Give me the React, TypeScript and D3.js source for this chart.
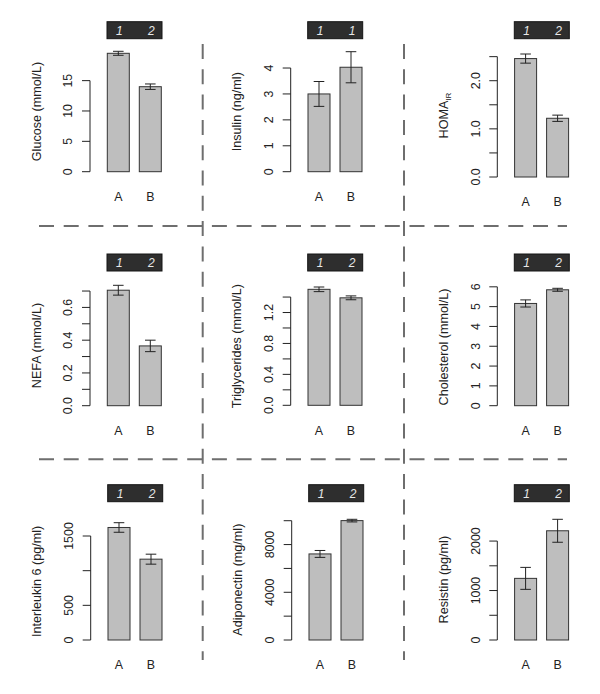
import React from 'react';
import * as d3 from 'd3';

// measures, one per panel (row by row)
const measures = [
  'Glucose (mmol/L)',
  'Insulin (ng/ml)',
  'HOMA_IR',
  'NEFA (mmol/L)',
  'Triglycerides (mmol/L)',
  'Cholesterol (mmol/L)',
  'Interleukin 6 (pg/ml)',
  'Adiponectin (mg/ml)',
  'Resistin (pg/ml)',
];
const groups = ['A', 'B'];
const meanA = [19.5, 3.0, 2.46, 0.705, 1.5, 5.16, 1623, 7215, 1246];
const meanB = [14.0, 4.03, 1.22, 0.365, 1.39, 5.85, 1166, 10008, 2208];
const seA = [0.33, 0.48, 0.095, 0.03, 0.03, 0.18, 69, 290, 222];
const seB = [0.45, 0.6, 0.065, 0.035, 0.025, 0.075, 72, 110, 232];
const stripLabels = [
  ['1', '2'], ['1', '1'], ['1', '2'],
  ['1', '2'], ['1', '2'], ['1', '2'],
  ['1', '2'], ['1', '2'], ['1', '2'],
];
const tickValues = [
  [0, 5, 10, 15],
  [0, 1, 2, 3, 4],
  [0, 0.5, 1, 1.5, 2, 2.5],
  [0, 0.1, 0.2, 0.3, 0.4, 0.5, 0.6, 0.7],
  [0, 0.2, 0.4, 0.6, 0.8, 1.0, 1.2, 1.4],
  [0, 1, 2, 3, 4, 5, 6],
  [0, 500, 1000, 1500],
  [0, 2000, 4000, 6000, 8000, 10000],
  [0, 500, 1000, 1500, 2000],
];
const tickLabels = [
  ['0', '5', '10', '15'],
  ['0', '1', '2', '3', '4'],
  ['0.0', '', '1.0', '', '2.0', ''],
  ['0.0', '', '0.2', '', '0.4', '', '0.6', ''],
  ['0.0', '', '0.4', '', '0.8', '', '1.2', ''],
  ['0', '1', '2', '3', '4', '5', '6'],
  ['0', '500', '', '1500'],
  ['0', '', '4000', '', '8000', ''],
  ['0', '', '1000', '', '2000'],
];

// layout (pixels)
const axisX = [90, 290.7, 497.3, 90, 290.7, 497.3, 90.7, 291.7, 497.3];
const plotTop = [51.3, 51.7, 54, 285.3, 287, 288.3, 522.7, 519.3, 519.3];
const plotZero = [171.7, 171.7, 177, 405.7, 405.3, 405.7, 640, 640, 640];
const stripTop = [21.7, 21.7, 21.7, 254, 254, 254, 484.7, 484.7, 484.7];

const FONT = '"Liberation Sans", Arial, Helvetica, sans-serif';
const BAR_FILL = '#bebebe';
const INK = '#222';

const Panel: React.FC<{ i: number }> = ({ i }) => {
  const ax = axisX[i];
  const means = [meanA[i], meanB[i]];
  const ses = [seA[i], seB[i]];
  const yMax = d3.max(means.map((m, k) => m + ses[k])) || 1;
  const y = d3.scaleLinear().domain([0, yMax]).range([plotZero[i], plotTop[i]]);
  const x = d3.scaleBand<string>()
    .domain(groups)
    .range([ax + 12.3, ax + 76.3])
    .paddingInner(0.3125)
    .paddingOuter(0.15625);
  const ticks = tickValues[i];
  const midY = (plotZero[i] + plotTop[i]) / 2;
  const titleX = ax - 54;
  const isHoma = measures[i] === 'HOMA_IR';

  return (
    <g>
      {/* strip */}
      <rect x={ax + 17} y={stripTop[i]} width={55} height={17} fill="#2e2e2e" stroke="#151515" strokeWidth={1} />
      {groups.map((g, k) => (
        <text
          key={`s-${g}`}
          x={(x(g) || 0) + x.bandwidth() / 2 + 1}
          y={stripTop[i] + 8.5}
          dy="0.36em"
          textAnchor="middle"
          fontSize={12}
          fontStyle="italic"
          fill="#e8e8e8"
        >
          {stripLabels[i][k]}
        </text>
      ))}

      {/* bars */}
      {groups.map((g, k) => (
        <rect
          key={`b-${g}`}
          x={x(g)}
          y={y(means[k])}
          width={x.bandwidth()}
          height={y(0) - y(means[k])}
          fill={BAR_FILL}
          stroke="#333"
          strokeWidth={1}
        />
      ))}

      {/* error bars */}
      {groups.map((g, k) => {
        const cx = (x(g) || 0) + x.bandwidth() / 2;
        const hi = y(means[k] + ses[k]);
        const lo = y(means[k] - ses[k]);
        return (
          <g key={`e-${g}`} stroke={INK} strokeWidth={1}>
            <line x1={cx} x2={cx} y1={hi} y2={lo} />
            <line x1={cx - 5.3} x2={cx + 5.3} y1={hi} y2={hi} />
            <line x1={cx - 5.3} x2={cx + 5.3} y1={lo} y2={lo} />
          </g>
        );
      })}

      {/* y axis */}
      <line x1={ax} x2={ax} y1={y(ticks[0])} y2={y(ticks[ticks.length - 1])} stroke={INK} />
      {ticks.map((t, k) => (
        <g key={`t-${k}`}>
          <line x1={ax - 8} x2={ax} y1={y(t)} y2={y(t)} stroke={INK} />
          {tickLabels[i][k] && (
            <text
              transform={`translate(${ax - 22},${y(t)}) rotate(-90)`}
              dy="0.36em"
              textAnchor="middle"
              fontSize={12.4}
              fill={INK}
            >
              {tickLabels[i][k]}
            </text>
          )}
        </g>
      ))}

      {/* y title */}
      <text
        transform={`translate(${titleX},${midY}) rotate(-90)`}
        dy="0.36em"
        textAnchor="middle"
        fontSize={12.6}
        fill={INK}
      >
        {isHoma ? (
          <>
            HOMA
            <tspan fontSize={8} dy="3">IR</tspan>
          </>
        ) : (
          measures[i]
        )}
      </text>

      {/* group labels */}
      {groups.map(g => (
        <text
          key={`c-${g}`}
          x={(x(g) || 0) + x.bandwidth() / 2}
          y={plotZero[i] + 25}
          dy="0.36em"
          textAnchor="middle"
          fontSize={12.4}
          fill={INK}
        >
          {g}
        </text>
      ))}
    </g>
  );
};

const App: React.FC = () => {
  const width = 600;
  const height = 694;
  const sepColor = '#6e6e6e';
  return (
    <div style={{ position: 'absolute', left: 0, top: 0 }}>
      <svg width={width} height={height} style={{ display: 'block', fontFamily: FONT }}>
        <rect width={width} height={height} fill="#fff" />
        {/* dashed separators */}
        {[226, 459.3].map(yy => (
          <line key={`h-${yy}`} x1={39} x2={567} y1={yy} y2={yy} stroke={sepColor} strokeWidth={2} strokeDasharray="15,9.7" />
        ))}
        {[202.7, 404].map(xx => (
          <line key={`v-${xx}`} x1={xx} x2={xx} y1={44} y2={660} stroke={sepColor} strokeWidth={2} strokeDasharray="15,10.3" />
        ))}
        {measures.map((_, i) => (
          <Panel key={i} i={i} />
        ))}
      </svg>
    </div>
  );
};

export default App;
